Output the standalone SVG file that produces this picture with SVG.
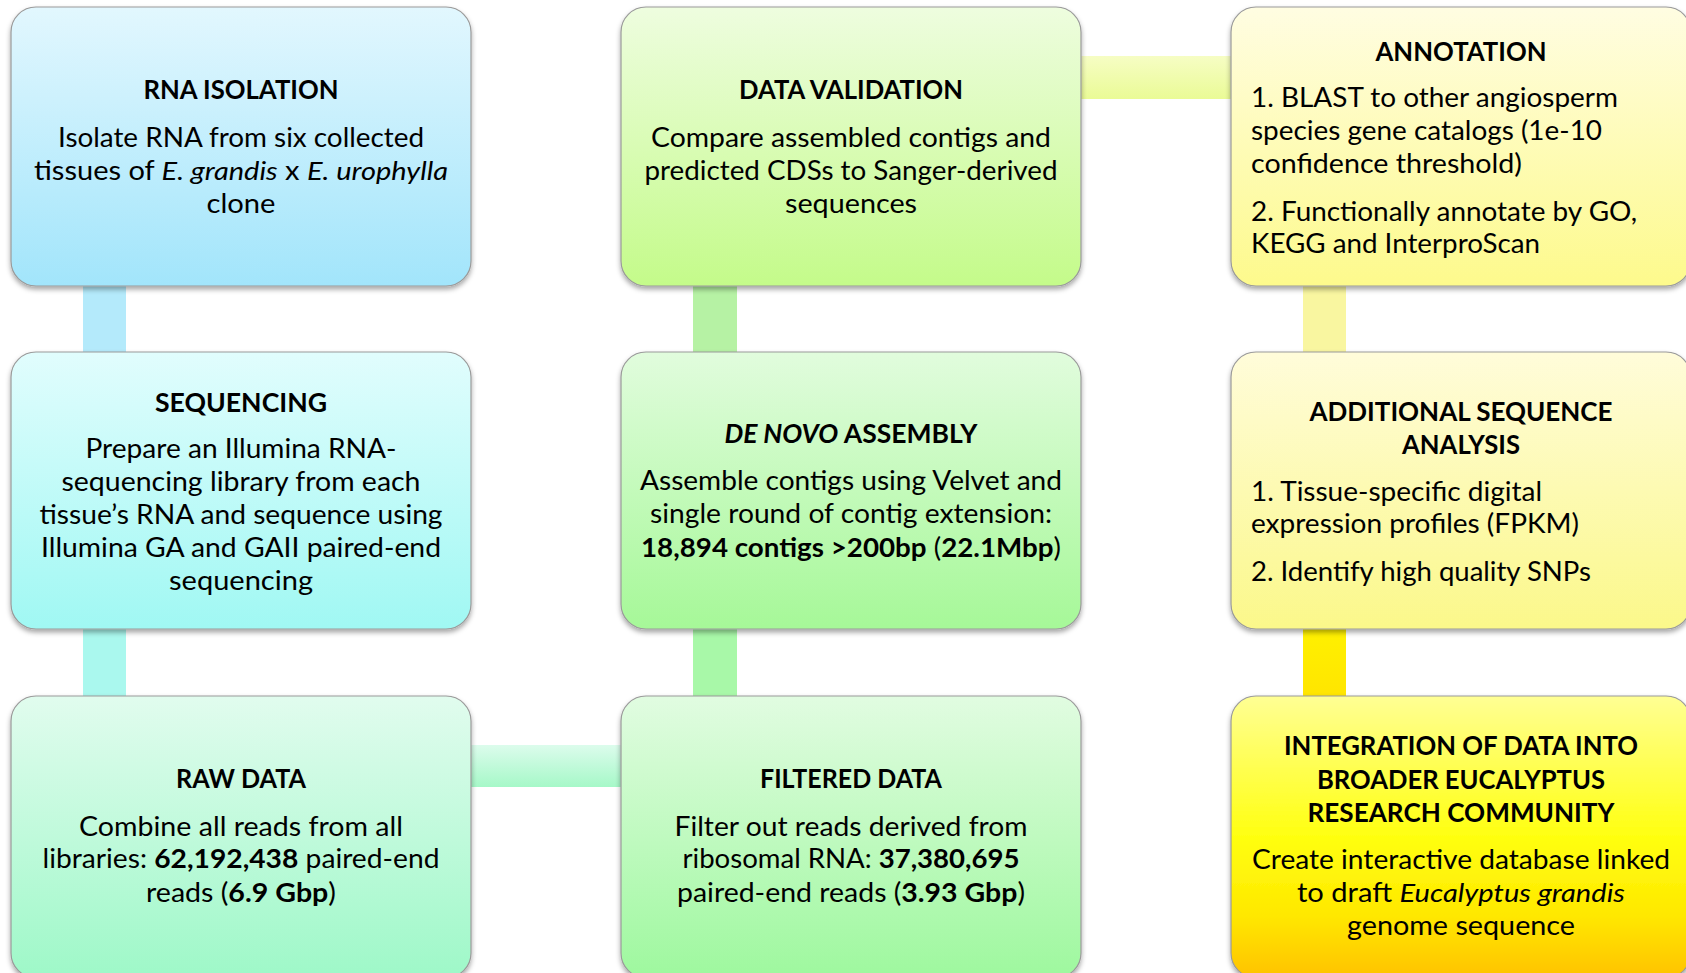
<svg xmlns="http://www.w3.org/2000/svg" width="1686" height="973" viewBox="0 0 1686 973">
  <defs>
    <filter id="shadow" x="-5%" y="-5%" width="110%" height="115%">
      <feDropShadow dx="0" dy="3" stdDeviation="2.5" flood-color="#000" flood-opacity="0.35"/>
    </filter>
    <linearGradient id="gBlue" x1="0" y1="0" x2="0" y2="1"><stop offset="0" stop-color="#e2f7fe"/><stop offset="1" stop-color="#a2e5fb"/></linearGradient>
    <linearGradient id="gCyan" x1="0" y1="0" x2="0" y2="1"><stop offset="0" stop-color="#e1fdfd"/><stop offset="1" stop-color="#a0f8f3"/></linearGradient>
    <linearGradient id="gMint" x1="0" y1="0" x2="0" y2="1"><stop offset="0" stop-color="#e1fcee"/><stop offset="1" stop-color="#9ef8c8"/></linearGradient>
    <linearGradient id="gLime" x1="0" y1="0" x2="0" y2="1"><stop offset="0" stop-color="#eefddf"/><stop offset="1" stop-color="#c4fb8a"/></linearGradient>
    <linearGradient id="gGreen" x1="0" y1="0" x2="0" y2="1"><stop offset="0" stop-color="#e1fcdd"/><stop offset="1" stop-color="#a6f898"/></linearGradient>
    <linearGradient id="gGreen2" x1="0" y1="0" x2="0" y2="1"><stop offset="0" stop-color="#e1fce1"/><stop offset="1" stop-color="#9ef89e"/></linearGradient>
    <linearGradient id="gPale" x1="0" y1="0" x2="0" y2="1"><stop offset="0" stop-color="#fffde2"/><stop offset="1" stop-color="#fdfa8c"/></linearGradient>
    <linearGradient id="gPale2" x1="0" y1="0" x2="0" y2="1"><stop offset="0" stop-color="#fffcda"/><stop offset="1" stop-color="#fbf88a"/></linearGradient>
    <linearGradient id="gGold" x1="0" y1="0" x2="0" y2="1"><stop offset="0" stop-color="#ffff94"/><stop offset="0.5" stop-color="#ffff10"/><stop offset="0.78" stop-color="#ffe800"/><stop offset="1" stop-color="#ffc200"/></linearGradient>
    <linearGradient id="gBarMint" x1="0" y1="0" x2="0" y2="1"><stop offset="0" stop-color="#dcfcec"/><stop offset="1" stop-color="#a6f8c8"/></linearGradient>
    <linearGradient id="gBarLime" x1="0" y1="0" x2="0" y2="1"><stop offset="0" stop-color="#f6fdc4"/><stop offset="1" stop-color="#eafb96"/></linearGradient>
    <linearGradient id="gBarGold" x1="0" y1="0" x2="0" y2="1"><stop offset="0" stop-color="#fff200"/><stop offset="1" stop-color="#ffe400"/></linearGradient>
  </defs>
  <style>
    .box { stroke: #9a9a9a; stroke-width: 1.2; filter: url(#shadow); }
    text { font-family: Lato, "Liberation Sans", sans-serif; font-size: 26px; fill: #000; }
    .t { font-weight: bold; }
    .c { text-anchor: middle; }
    .b { font-weight: bold; }
    .i { font-style: italic; }
  </style>
  <rect width="1686" height="973" fill="#fff"/>

  <!-- connecting bars, drawn underneath the boxes -->
  <g id="connectors">
    <rect x="83" y="280" width="43" height="80" fill="#b4eafb"/>
    <rect x="83" y="622" width="43" height="80" fill="#aaf8ee"/>
    <rect x="465" y="745" width="162" height="42" fill="url(#gBarMint)"/>
    <rect x="693" y="280" width="44" height="80" fill="#b6f2a4"/>
    <rect x="693" y="622" width="44" height="80" fill="#a8f8a8"/>
    <rect x="1075" y="56" width="162" height="43" fill="url(#gBarLime)"/>
    <rect x="1303" y="280" width="43" height="80" fill="#f9f6a0"/>
    <rect x="1303" y="622" width="43" height="80" fill="url(#gBarGold)"/>
  </g>

  <g id="rna-isolation">
    <rect class="box" x="11" y="7" width="460" height="279" rx="25" fill="url(#gBlue)"/>
    <text class="t c" x="241" y="99" textLength="195" lengthAdjust="spacingAndGlyphs">RNA ISOLATION</text>
    <text class="c" x="241" y="147" textLength="366" lengthAdjust="spacingAndGlyphs">Isolate RNA from six collected</text>
    <text class="c" x="241" y="180" textLength="414" lengthAdjust="spacingAndGlyphs">tissues of <tspan class="i">E. grandis</tspan> x <tspan class="i">E. urophylla</tspan></text>
    <text class="c" x="241" y="213" textLength="69" lengthAdjust="spacingAndGlyphs">clone</text>
  </g>

  <g id="sequencing">
    <rect class="box" x="11" y="352" width="460" height="277" rx="25" fill="url(#gCyan)"/>
    <text class="t c" x="241" y="412" textLength="172" lengthAdjust="spacingAndGlyphs">SEQUENCING</text>
    <text class="c" x="241" y="458" textLength="311" lengthAdjust="spacingAndGlyphs">Prepare an Illumina RNA-</text>
    <text class="c" x="241" y="491" textLength="359" lengthAdjust="spacingAndGlyphs">sequencing library from each</text>
    <text class="c" x="241" y="524" textLength="403" lengthAdjust="spacingAndGlyphs">tissue’s RNA and sequence using</text>
    <text class="c" x="241" y="557" textLength="400" lengthAdjust="spacingAndGlyphs">Illumina GA and GAII paired-end</text>
    <text class="c" x="241" y="590" textLength="144" lengthAdjust="spacingAndGlyphs">sequencing</text>
  </g>

  <g id="raw-data">
    <rect class="box" x="11" y="696" width="460" height="282" rx="25" fill="url(#gMint)"/>
    <text class="t c" x="241" y="788" textLength="130" lengthAdjust="spacingAndGlyphs">RAW DATA</text>
    <text class="c" x="241" y="836" textLength="324" lengthAdjust="spacingAndGlyphs">Combine all reads from all</text>
    <text class="c" x="241" y="868" textLength="397" lengthAdjust="spacingAndGlyphs">libraries: <tspan class="b">62,192,438</tspan> paired-end</text>
    <text class="c" x="241" y="902" textLength="190" lengthAdjust="spacingAndGlyphs">reads (<tspan class="b">6.9 Gbp</tspan>)</text>
  </g>

  <g id="data-validation">
    <rect class="box" x="621" y="7" width="460" height="279" rx="25" fill="url(#gLime)"/>
    <text class="t c" x="851" y="99" textLength="224" lengthAdjust="spacingAndGlyphs">DATA VALIDATION</text>
    <text class="c" x="851" y="147" textLength="400" lengthAdjust="spacingAndGlyphs">Compare assembled contigs and</text>
    <text class="c" x="851" y="180" textLength="413" lengthAdjust="spacingAndGlyphs">predicted CDSs to Sanger-derived</text>
    <text class="c" x="851" y="213" textLength="132" lengthAdjust="spacingAndGlyphs">sequences</text>
  </g>

  <g id="de-novo-assembly">
    <rect class="box" x="621" y="352" width="460" height="277" rx="25" fill="url(#gGreen)"/>
    <text class="t c" x="851" y="443" textLength="253" lengthAdjust="spacingAndGlyphs"><tspan class="i">DE NOVO</tspan> ASSEMBLY</text>
    <text class="c" x="851" y="490" textLength="422" lengthAdjust="spacingAndGlyphs">Assemble contigs using Velvet and</text>
    <text class="c" x="851" y="523" textLength="402" lengthAdjust="spacingAndGlyphs">single round of contig extension:</text>
    <text class="c" x="851" y="557" textLength="420" lengthAdjust="spacingAndGlyphs"><tspan class="b">18,894 contigs &gt;200bp</tspan> (<tspan class="b">22.1Mbp</tspan>)</text>
  </g>

  <g id="filtered-data">
    <rect class="box" x="621" y="696" width="460" height="282" rx="25" fill="url(#gGreen2)"/>
    <text class="t c" x="851" y="788" textLength="182" lengthAdjust="spacingAndGlyphs">FILTERED DATA</text>
    <text class="c" x="851" y="836" textLength="353" lengthAdjust="spacingAndGlyphs">Filter out reads derived from</text>
    <text class="c" x="851" y="868" textLength="337" lengthAdjust="spacingAndGlyphs">ribosomal RNA: <tspan class="b">37,380,695</tspan></text>
    <text class="c" x="851" y="902" textLength="348" lengthAdjust="spacingAndGlyphs">paired-end reads (<tspan class="b">3.93 Gbp</tspan>)</text>
  </g>

  <g id="annotation">
    <rect class="box" x="1231" y="7" width="460" height="279" rx="25" fill="url(#gPale)"/>
    <text class="t c" x="1461" y="61" textLength="171" lengthAdjust="spacingAndGlyphs">ANNOTATION</text>
    <text x="1251" y="107" textLength="367" lengthAdjust="spacingAndGlyphs">1. BLAST to other angiosperm</text>
    <text x="1251" y="140" textLength="351" lengthAdjust="spacingAndGlyphs">species gene catalogs (1e-10</text>
    <text x="1251" y="173" textLength="271" lengthAdjust="spacingAndGlyphs">confidence threshold)</text>
    <text x="1251" y="221" textLength="386" lengthAdjust="spacingAndGlyphs">2. Functionally annotate by GO,</text>
    <text x="1251" y="253" textLength="289" lengthAdjust="spacingAndGlyphs">KEGG and InterproScan</text>
  </g>

  <g id="additional-analysis">
    <rect class="box" x="1231" y="352" width="460" height="277" rx="25" fill="url(#gPale2)"/>
    <text class="t c" x="1461" y="421" textLength="303" lengthAdjust="spacingAndGlyphs">ADDITIONAL SEQUENCE</text>
    <text class="t c" x="1461" y="454" textLength="118" lengthAdjust="spacingAndGlyphs">ANALYSIS</text>
    <text x="1251" y="501" textLength="291" lengthAdjust="spacingAndGlyphs">1. Tissue-specific digital</text>
    <text x="1251" y="533" textLength="328" lengthAdjust="spacingAndGlyphs">expression profiles (FPKM)</text>
    <text x="1251" y="581" textLength="340" lengthAdjust="spacingAndGlyphs">2. Identify high quality SNPs</text>
  </g>

  <g id="integration">
    <rect class="box" x="1231" y="696" width="460" height="282" rx="25" fill="url(#gGold)"/>
    <text class="t c" x="1461" y="755" textLength="354" lengthAdjust="spacingAndGlyphs">INTEGRATION OF DATA INTO</text>
    <text class="t c" x="1461" y="789" textLength="288" lengthAdjust="spacingAndGlyphs">BROADER EUCALYPTUS</text>
    <text class="t c" x="1461" y="822" textLength="307" lengthAdjust="spacingAndGlyphs">RESEARCH COMMUNITY</text>
    <text class="c" x="1461" y="869" textLength="418" lengthAdjust="spacingAndGlyphs">Create interactive database linked</text>
    <text class="c" x="1461" y="902" textLength="328" lengthAdjust="spacingAndGlyphs">to draft <tspan class="i">Eucalyptus grandis</tspan></text>
    <text class="c" x="1461" y="935" textLength="228" lengthAdjust="spacingAndGlyphs">genome sequence</text>
  </g>
</svg>
